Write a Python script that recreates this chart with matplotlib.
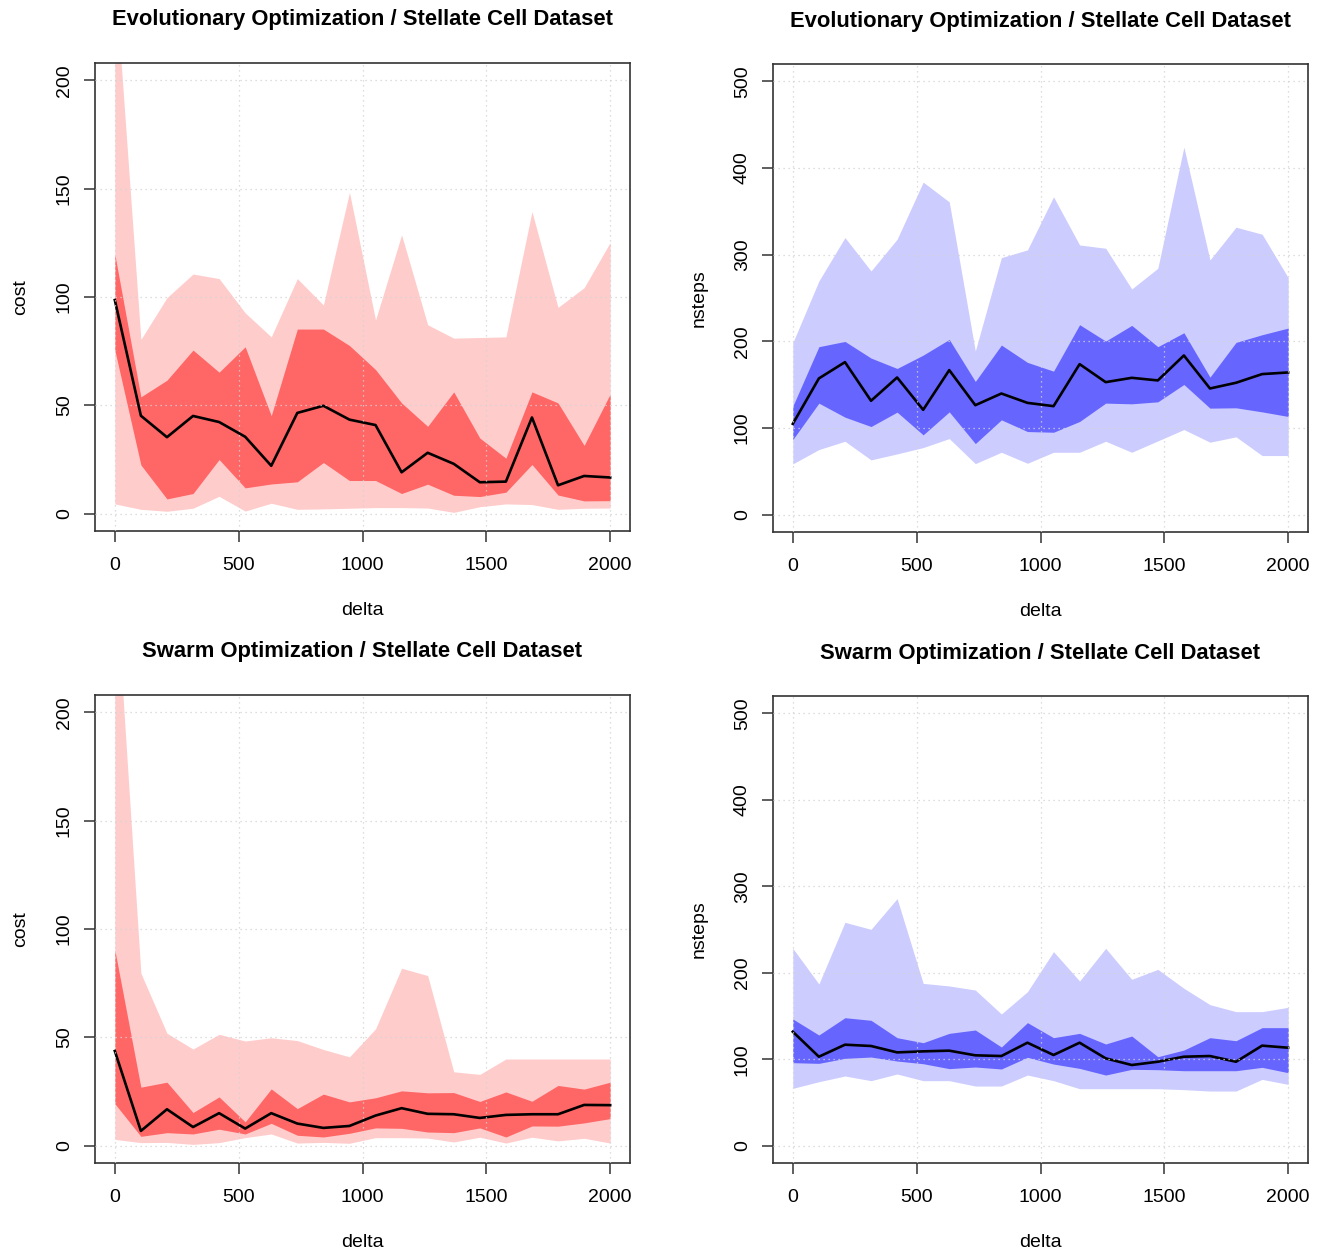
import numpy as np
import matplotlib
matplotlib.use("Agg")
import matplotlib.pyplot as plt

plt.rcParams['font.family'] = ['Liberation Sans', 'DejaVu Sans']

# delta grid: 20 runs from 0 to 2000
delta = np.linspace(0, 2000, 20)

# --- Evolutionary optimization, cost ---
evo_cost_med = [98.6, 45.2, 35.3, 45.1, 42.3, 35.5, 22.1, 46.5, 49.8, 43.4,
                40.9, 19.1, 28.1, 23.0, 14.5, 14.8, 44.4, 13.1, 17.4, 16.7]
evo_cost_q_hi = [119.8, 53.9, 61.6, 75.5, 65.3, 77.0, 45.2, 85.2, 85.2, 77.6,
                 66.5, 51.1, 40.3, 56.2, 34.9, 25.6, 56.2, 51.1, 31.5, 55.2]
evo_cost_q_lo = [75.5, 22.5, 6.8, 9.3, 25.0, 11.9, 13.7, 14.7, 23.6, 15.3,
                 15.3, 9.3, 13.6, 8.5, 7.9, 9.9, 22.7, 8.6, 5.9, 6.0]
evo_cost_max = [249, 80.4, 99.7, 110.6, 108.5, 92.7, 81.6, 108.5, 96.3, 148.3,
                89.4, 128.7, 87.2, 81.0, 81.3, 81.6, 139.4, 95.2, 104.3, 125.2]
evo_cost_min = [4.5, 2.0, 1.1, 2.5, 8.0, 1.2, 4.8, 2.0, 2.2, 2.5,
                2.8, 2.8, 2.6, 0.6, 3.2, 4.5, 4.2, 2.0, 2.5, 2.6]

# --- Evolutionary optimization, nsteps ---
evo_steps_med = [104.8, 157.2, 176.0, 131.4, 158.3, 121.0, 166.8, 126.3, 139.8, 129.0,
                 125.2, 173.7, 152.9, 157.9, 154.9, 183.7, 145.6, 152.2, 162.2, 164.1]
evo_steps_q_hi = [125.2, 193.8, 199.9, 180.7, 168.7, 184.1, 202.2, 153.7, 195.7, 175.7,
                  165.6, 219.2, 200.3, 218.4, 193.8, 209.9, 158.7, 198.8, 207.6, 215.3]
evo_steps_q_lo = [86.7, 128.7, 112.5, 101.7, 118.3, 92.1, 118.6, 82.0, 109.4, 95.9,
                  95.1, 107.5, 128.7, 127.9, 130.2, 150.2, 122.9, 123.3, 118.6, 113.3]
evo_steps_max = [198.4, 269.6, 319.7, 281.2, 317.8, 383.7, 360.9, 188.8, 296.6, 305.5,
                 366.7, 311.2, 307.4, 260.4, 284.3, 424.1, 293.9, 331.7, 323.6, 273.5]
evo_steps_min = [58.6, 75.1, 84.7, 63.2, 70.1, 77.4, 87.8, 58.9, 72.0, 59.3,
                 72.0, 72.0, 84.7, 72.0, 85.1, 98.2, 83.6, 89.8, 68.2, 68.2]

# --- Swarm optimization, cost ---
swarm_cost_med = [43.7, 6.8, 16.8, 8.6, 15.0, 7.9, 15.0, 10.2, 8.2, 9.1,
                  13.9, 17.3, 14.7, 14.5, 12.8, 14.2, 14.5, 14.5, 18.8, 18.7]
swarm_cost_q_hi = [90.4, 27.0, 29.3, 15.3, 22.5, 11.0, 26.2, 17.1, 23.8, 20.2,
                   22.1, 25.3, 24.4, 24.5, 20.4, 24.8, 20.5, 27.8, 26.1, 29.3]
swarm_cost_q_lo = [19.4, 4.3, 6.0, 5.4, 7.6, 5.4, 10.3, 4.8, 4.0, 5.7,
                   8.2, 8.0, 6.3, 6.0, 8.2, 4.0, 9.1, 9.0, 10.5, 12.5]
swarm_cost_max = [266, 79.6, 51.9, 44.6, 51.4, 48.3, 49.8, 48.5, 44.4, 41.0,
                  53.9, 81.9, 78.5, 34.1, 32.9, 40.0, 40.0, 40.0, 40.0, 40.0]
swarm_cost_min = [2.9, 1.4, 1.5, 0.6, 1.4, 3.7, 5.4, 1.2, 1.5, 1.1,
                  3.7, 3.7, 3.5, 1.7, 3.9, 1.2, 3.9, 2.2, 3.4, 1.2]

# --- Swarm optimization, nsteps ---
swarm_steps_med = [131.8, 102.9, 116.8, 115.3, 107.9, 109.1, 109.9, 104.5, 103.7, 119.1,
                   104.9, 119.1, 101.0, 93.3, 97.1, 102.9, 103.7, 97.1, 115.7, 113.3]
swarm_steps_q_hi = [146.5, 128.0, 148.0, 145.0, 124.9, 119.1, 129.9, 133.8, 114.1, 142.3,
                    124.9, 129.9, 117.6, 126.8, 102.9, 110.6, 124.9, 121.4, 136.5, 136.5]
swarm_steps_q_lo = [96.0, 95.2, 101.0, 102.5, 97.9, 94.8, 89.1, 91.0, 88.7, 102.2,
                    94.4, 89.4, 81.7, 88.3, 87.9, 86.7, 86.7, 86.7, 90.6, 84.4]
swarm_steps_max = [228.2, 187.0, 258.3, 250.2, 285.7, 187.7, 184.7, 180.0, 152.3, 178.1,
                   224.4, 190.4, 228.2, 192.4, 203.9, 182.0, 163.1, 155.0, 155.0, 160.0]
swarm_steps_min = [66.3, 74.0, 80.6, 75.2, 82.9, 75.2, 75.2, 69.0, 69.0, 81.7,
                   75.2, 65.9, 65.9, 65.9, 65.9, 64.8, 63.2, 63.2, 76.7, 70.9]

RED_LIGHT, RED_DARK = '#FFCCCC', '#FF6666'
BLUE_LIGHT, BLUE_DARK = '#CCCCFF', '#6666FF'

W, H = 1320, 1253
fig = plt.figure(figsize=(W / 100, H / 100), dpi=100)


def add_panel(left, top, right, bottom):
    return fig.add_axes([left / W, 1 - bottom / H, (right - left) / W, (bottom - top) / H])


def draw_panel(ax, title, ylabel, ymax, ystep, med, qlo, qhi, vmin, vmax, light, dark):
    ax.fill_between(delta, vmin, vmax, color=light, linewidth=0)
    ax.fill_between(delta, qlo, qhi, color=dark, linewidth=0)
    ax.plot(delta, med, color='black', linewidth=1.9)

    ax.set_xlim(-80, 2080)
    ax.set_ylim(-0.04 * ymax, 1.04 * ymax)
    ax.set_xticks(np.arange(0, 2001, 500))
    ax.set_yticks(np.arange(0, ymax + 1, ystep))
    ax.grid(True, color='#D3D3D3', linestyle=(0, (1, 3)), linewidth=0.9)
    ax.set_axisbelow(False)
    for s in ax.spines.values():
        s.set_color('#333333')
        s.set_linewidth(1.2)
    ax.tick_params(axis='both', direction='out', length=8, width=1.1,
                   color='#333333', labelsize=14)
    ax.tick_params(axis='x', pad=11)
    ax.tick_params(axis='y', pad=8)
    for lab in ax.get_yticklabels():
        lab.set_rotation(90)
        lab.set_va('center')
    ax.set_title(title, fontsize=15.8, fontweight='bold', pad=27)
    ax.set_xlabel('delta', fontsize=14, labelpad=20)
    ax.set_ylabel(ylabel, fontsize=14, labelpad=19)


ax1 = add_panel(95, 63, 630, 531)
draw_panel(ax1, 'Evolutionary Optimization / Stellate Cell Dataset', 'cost', 200, 50,
           evo_cost_med, evo_cost_q_lo, evo_cost_q_hi, evo_cost_min, evo_cost_max,
           RED_LIGHT, RED_DARK)

ax2 = add_panel(773, 64, 1308, 532)
draw_panel(ax2, 'Evolutionary Optimization / Stellate Cell Dataset', 'nsteps', 500, 100,
           evo_steps_med, evo_steps_q_lo, evo_steps_q_hi, evo_steps_min, evo_steps_max,
           BLUE_LIGHT, BLUE_DARK)

ax3 = add_panel(95, 695, 630, 1163)
draw_panel(ax3, 'Swarm Optimization / Stellate Cell Dataset', 'cost', 200, 50,
           swarm_cost_med, swarm_cost_q_lo, swarm_cost_q_hi, swarm_cost_min, swarm_cost_max,
           RED_LIGHT, RED_DARK)

ax4 = add_panel(773, 696, 1308, 1163)
draw_panel(ax4, 'Swarm Optimization / Stellate Cell Dataset', 'nsteps', 500, 100,
           swarm_steps_med, swarm_steps_q_lo, swarm_steps_q_hi, swarm_steps_min, swarm_steps_max,
           BLUE_LIGHT, BLUE_DARK)

fig.savefig('out.png', dpi=100)
